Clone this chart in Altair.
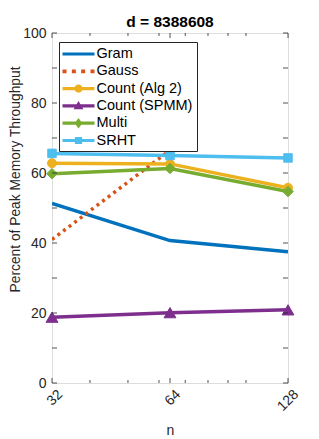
import altair as alt
import pandas as pd

# ---------------- data ----------------
n_values = [32, 64, 128]
series_names = ["Gram", "Gauss", "Count (Alg 2)", "Count (SPMM)", "Multi", "SRHT"]
gram = [51.3, 40.7, 37.5]
gauss = [41.0, 66.5]          # no value at n = 128
count_alg2 = [62.8, 62.6, 55.8]
count_spmm = [18.8, 20.1, 20.9]
multi = [59.8, 61.3, 54.7]
srht = [65.6, 65.0, 64.3]

y_ticks = [0, 10, 20, 30, 40, 50, 60, 70, 80, 90, 100]
x_major = [32, 64, 128]
x_minor = [40, 50, 60, 70, 80, 90, 100]

# ---------------- style ----------------
series_values = [gram, gauss, count_alg2, count_spmm, multi, srht]
series_colors = ["#0072BD", "#D95319", "#EDB120", "#7E2F8E", "#77AC30", "#4DBEEE"]
plot_markers = [None, None, "circle", "triangle-up", "diamond", "square"]
marker_sizes = [0, 0, 80, 140, 110, 72]
dashes = [None, [3, 4], None, None, None, None]

line_rect = "M-2,-0.2H2V0.2H-2Z"
legend_glyphs = [
    line_rect,
    "M-2,-0.24h0.5v0.48h-0.5Z M-0.83,-0.24h0.5v0.48h-0.5Z M0.33,-0.24h0.5v0.48h-0.5Z M1.5,-0.24h0.5v0.48h-0.5Z",
    line_rect + " M0.52,0A0.52,0.52 0 1,1 -0.52,0A0.52,0.52 0 1,1 0.52,0Z",
    line_rect + " M0,-0.62L0.62,0.42L-0.62,0.42Z",
    line_rect + " M0,-0.66L0.48,0L0,0.66L-0.48,0Z",
    line_rect + " M-0.45,-0.45H0.45V0.45H-0.45Z",
]

AX = "#262626"
FONT = "Liberation Sans"

x_scale = alt.Scale(type="log", domain=[32, 128], nice=False)
y_scale = alt.Scale(domain=[0, 100], nice=False, zero=False)
x_axis = alt.Axis(values=x_major, title="n", labelAngle=-45, labelAlign="right",
                  labelBaseline="top", ticks=False, tickSize=0, domain=False, grid=False,
                  labelPadding=4, labelOffset=3, labelFontSize=14, labelFont=FONT, labelColor=AX,
                  titleFont=FONT, titleFontSize=14, titleFontWeight="normal", titleColor=AX,
                  titlePadding=10, labelFlush=False, labelOverlap=False)
y_axis = alt.Axis(values=y_ticks, title="Percent of Peak Memory Throughput", ticks=False,
                  tickSize=0, domain=False, grid=False, labelPadding=6, labelFontSize=14,
                  labelFont=FONT, labelColor=AX, titleFont=FONT, titleFontSize=13.8,
                  titleFontWeight="normal", titleColor=AX, titlePadding=0, titleY=146,
                  labelFlush=False)

layers = []
for name, vals, color, marker, msize, dash in zip(series_names, series_values, series_colors,
                                                  plot_markers, marker_sizes, dashes):
    df = pd.DataFrame({"n": n_values[:len(vals)], "value": vals, "series": name})
    base = alt.Chart(df).encode(
        x=alt.X("n:Q", scale=x_scale, axis=x_axis),
        y=alt.Y("value:Q", scale=y_scale, axis=y_axis),
    )
    kw = dict(color=color, strokeWidth=3.5, strokeCap="butt", clip=True)
    if dash:
        kw["strokeDash"] = dash
    layers.append(base.mark_line(**kw))
    if marker:
        layers.append(base.mark_point(shape=marker, filled=True, size=msize, color=color,
                                      opacity=1, stroke=color, strokeWidth=1))

# tick marks pointing inward on all four sides
xmaj_df = pd.DataFrame({"n": x_major})
xmin_df = pd.DataFrame({"n": x_minor})
yt_df = pd.DataFrame({"value": y_ticks})
tick_style = dict(color=AX, strokeWidth=0.8)
for tdf, ln in [(xmaj_df, 5), (xmin_df, 3)]:
    layers.append(alt.Chart(tdf).mark_rule(y2Offset=-ln, **tick_style).encode(
        x=alt.X("n:Q", scale=x_scale, axis=x_axis), y=alt.datum(0), y2=alt.datum(0)))
    layers.append(alt.Chart(tdf).mark_rule(y2Offset=ln, **tick_style).encode(
        x=alt.X("n:Q", scale=x_scale, axis=x_axis), y=alt.datum(100), y2=alt.datum(100)))
layers.append(alt.Chart(yt_df).mark_rule(x2Offset=5, **tick_style).encode(
    y=alt.Y("value:Q", scale=y_scale, axis=y_axis), x=alt.datum(32), x2=alt.datum(32)))
layers.append(alt.Chart(yt_df).mark_rule(x2Offset=-5, **tick_style).encode(
    y=alt.Y("value:Q", scale=y_scale, axis=y_axis), x=alt.datum(128), x2=alt.datum(128)))

# legend (from an empty layer whose scales carry the series)
leg = alt.Legend(title=None, orient="none", legendX=7, legendY=9, symbolSize=256,
                 symbolStrokeWidth=0, labelFont=FONT, labelFontSize=14.5, labelColor="black",
                 padding=4, rowPadding=2.3, symbolOffset=7.5, labelOffset=10,
                 strokeColor=AX, fillColor="white", labelLimit=220, cornerRadius=0)
legend_df = pd.DataFrame({"series": series_names, "n": [32] * 6, "value": [0] * 6})
layers.append(
    alt.Chart(legend_df).transform_filter("false").mark_point(filled=True, opacity=1, strokeWidth=0)
    .encode(
        x=alt.X("n:Q", scale=x_scale, axis=x_axis),
        y=alt.Y("value:Q", scale=y_scale, axis=y_axis),
        color=alt.Color("series:N", scale=alt.Scale(domain=series_names, range=series_colors),
                        legend=leg, sort=series_names),
        shape=alt.Shape("series:N", scale=alt.Scale(domain=series_names, range=legend_glyphs),
                        legend=leg, sort=series_names),
    )
)

chart = alt.layer(*layers).properties(
    width=236, height=350,
    title=alt.TitleParams("d = 8388608", fontSize=15.5, fontWeight="bold", font=FONT,
                          color="black", anchor="middle", frame="group", offset=6, dy=10),
    padding={"left": 44, "top": 25, "right": 20, "bottom": 56},
    autosize="none",
).configure_view(stroke=AX, strokeWidth=1).configure(background="white")

chart.save("out.html", embed_options={"renderer": "svg", "actions": False})
